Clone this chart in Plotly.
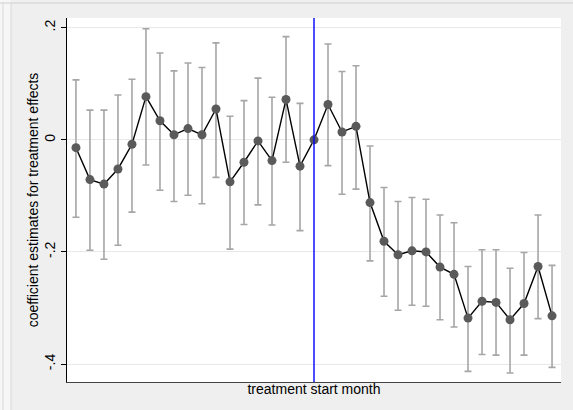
import numpy as np
import plotly.graph_objects as go

months = list(range(-17, 18))
coef = [-0.014, -0.071, -0.079, -0.052, -0.008, 0.077, 0.034, 0.009, 0.020, 0.009,
        0.055, -0.075, -0.040, -0.002, -0.037, 0.072, -0.047, 0.000, 0.063, 0.014,
        0.024, -0.112, -0.181, -0.205, -0.198, -0.200, -0.227, -0.240, -0.318, -0.288,
        -0.290, -0.321, -0.292, -0.226, -0.314]
upper = [0.107, 0.053, 0.053, 0.080, 0.108, 0.198, 0.155, 0.123, 0.137, 0.129,
         0.173, 0.042, 0.070, 0.110, 0.076, 0.184, 0.065, None, 0.171, 0.122,
         0.132, -0.011, -0.085, -0.110, -0.103, -0.106, -0.134, -0.148, -0.226, -0.196,
         -0.196, -0.229, -0.201, -0.134, -0.224]
lower = [-0.138, -0.197, -0.213, -0.188, -0.129, -0.045, -0.090, -0.110, -0.099, -0.114,
         -0.067, -0.195, -0.151, -0.116, -0.152, -0.040, -0.162, None, -0.046, -0.097,
         -0.088, -0.216, -0.279, -0.304, -0.295, -0.297, -0.321, -0.334, -0.413, -0.383,
         -0.384, -0.416, -0.384, -0.319, -0.406]
ytick_vals = [-0.4, -0.2, 0, 0.2]
ytick_text = ["-.4", "-.2", "0", ".2"]
event_month = 0

font = "Liberation Sans, Arial, Helvetica, sans-serif"

mask = [u is not None for u in upper]
ex = [m for m, k in zip(months, mask) if k]
ey = [c for c, k in zip(coef, mask) if k]
eu = [u - c for u, c, k in zip(upper, coef, mask) if k]
el = [c - l for l, c, k in zip(lower, coef, mask) if k]

fig = go.Figure()
fig.add_trace(go.Scatter(
    x=ex, y=ey, mode="markers", marker=dict(size=0.1, opacity=0),
    error_y=dict(type="data", symmetric=False, array=eu, arrayminus=el,
                 color="#a6a6a6", thickness=1.6, width=3.5),
    hoverinfo="skip", showlegend=False))
fig.add_trace(go.Scatter(
    x=months, y=coef, mode="lines+markers",
    line=dict(color="black", width=1.4),
    marker=dict(color="#5a5a5a", size=9),
    showlegend=False))

fig.add_shape(type="line", xref="x", yref="paper", x0=event_month, x1=event_month,
              y0=0, y1=1, line=dict(color="blue", width=1.4), layer="above")

# outer frame decoration (screen-crop borders)
fig.add_shape(type="rect", xref="paper", yref="paper",
              x0=-67/494, x1=-56/494, y0=-28/364, y1=(410 - 18)/364 + 0.01,
              fillcolor="#f6f6f6", line=dict(width=0), layer="below")
fig.add_shape(type="line", xref="paper", yref="paper",
              x0=-64/494, x1=-64/494, y0=-28/364, y1=1 + 15/364,
              line=dict(color="#d8d8d8", width=1))
fig.add_shape(type="line", xref="paper", yref="paper",
              x0=-56/494, x1=-56/494, y0=-28/364, y1=1 + 15/364,
              line=dict(color="#d8d8d8", width=1))
fig.add_shape(type="line", xref="paper", yref="paper",
              x0=-67/494, x1=1 + 12/494, y0=1 + 15/364, y1=1 + 15/364,
              line=dict(color="#d0d0d0", width=1))

fig.update_layout(
    width=573, height=410,
    margin=dict(l=67, r=12, t=18, b=28),
    paper_bgcolor="#efefef",
    plot_bgcolor="white",
    font=dict(family=font, size=14, color="black"),
    xaxis=dict(
        range=[-17.64, 17.64], showticklabels=False, ticks="", showgrid=False,
        zeroline=False, showline=True, linecolor="#444444", linewidth=1.2,
        automargin=False,
        title=dict(text="treatment start month", font=dict(size=14), standoff=2),
    ),
    yaxis=dict(
        range=[-0.432, 0.2173], tickvals=ytick_vals, ticktext=ytick_text,
        tickangle=-90, ticks="outside", ticklen=5, tickcolor="black", tickwidth=1,
        showgrid=True, gridcolor="#e8e8e8", gridwidth=1.2,
        zeroline=False, showline=True, linecolor="black", linewidth=1.2,
        tickfont=dict(size=14), automargin=False,
        title=dict(text="coefficient estimates for treatment effects",
                   font=dict(size=14), standoff=0),
    ),
)

fig.write_html("out.html", config={"displayModeBar": False},
               post_script="document.body.style.margin='0';document.body.style.overflow='hidden';")
